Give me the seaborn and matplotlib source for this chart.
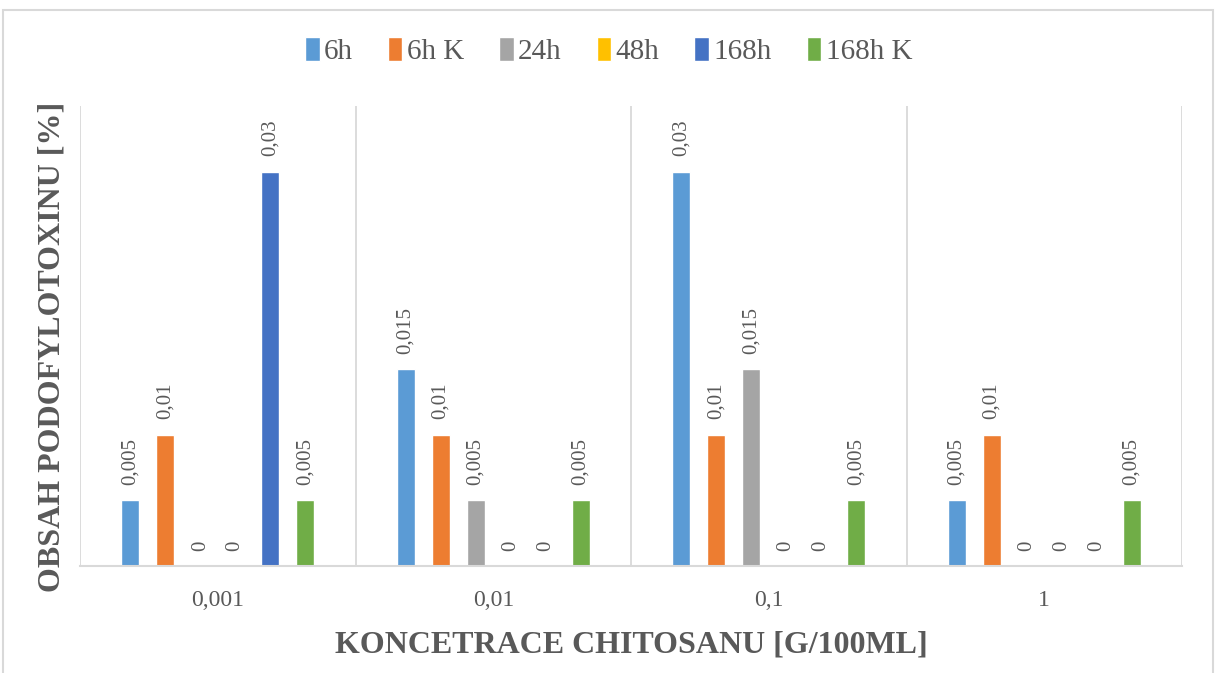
import numpy as np
import pandas as pd
import matplotlib
matplotlib.use("Agg")
import matplotlib.pyplot as plt
import seaborn as sns

# Data
concentrations = ["0,001", "0,01", "0,1", "1"]
series = ["6h", "6h K", "24h", "48h", "168h", "168h K"]
values = {
    "6h":     [0.005, 0.015, 0.03, 0.005],
    "6h K":   [0.01, 0.01, 0.01, 0.01],
    "24h":    [0.0, 0.005, 0.015, 0.0],
    "48h":    [0.0, 0.0, 0.0, 0.0],
    "168h":   [0.03, 0.0, 0.0, 0.0],
    "168h K": [0.005, 0.005, 0.005, 0.005],
}
colors = ["#5B9BD5", "#ED7D31", "#A5A5A5", "#FFC000", "#4472C4", "#70AD47"]
text_color = "#595959"
grid_color = "#D9D9D9"

rows = []
for s in series:
    for c, v in zip(concentrations, values[s]):
        rows.append({"conc": c, "series": s, "value": v})
df = pd.DataFrame(rows)

sns.set_theme(style="white")
plt.rcParams["font.family"] = ["Liberation Serif", "DejaVu Serif"]

fig = plt.figure(figsize=(12.17, 6.73), dpi=100)
ax = fig.add_axes([80 / 1217, 1 - 566 / 673, (1182 - 80) / 1217, (566 - 106) / 673])

sns.barplot(data=df, x="conc", y="value", hue="series", hue_order=series,
            order=concentrations, palette=colors, width=0.762, gap=0.49,
            errorbar=None, saturation=1, ax=ax)

# data labels
for cont in ax.containers:
    labels = [f"{b.get_height():g}".replace(".", ",") for b in cont]
    ax.bar_label(cont, labels=labels, rotation=90, padding=11,
                 fontsize=15, color=text_color)

ax.set_ylim(0, 0.035)
ax.set_xlim(-0.5, len(concentrations) - 0.5)
ax.set_yticks([])
ax.set_xticks(np.arange(-0.5, len(concentrations)), minor=True)
ax.grid(axis="x", which="minor", color=grid_color, linewidth=1.3)
ax.tick_params(axis="x", which="both", length=0, pad=17, labelsize=17,
               labelcolor=text_color)
for side in ["top", "left", "right"]:
    ax.spines[side].set_visible(False)
ax.spines["bottom"].set_color(grid_color)
ax.spines["bottom"].set_linewidth(1.5)

ax.set_xlabel("KONCETRACE CHITOSANU [G/100ML]", fontsize=23, fontweight="bold",
              color=text_color, labelpad=14)
ax.set_ylabel("OBSAH PODOFYLOTOXINU [%]", fontsize=23, fontweight="bold",
              color=text_color)
ax.yaxis.set_label_coords(-0.012, 0.476)

handles, labs = ax.get_legend_handles_labels()
ax.legend(handles, labs, loc="center", bbox_to_anchor=(0.5, (673 - 51) / 673),
          bbox_transform=fig.transFigure, ncol=6, frameon=False, fontsize=21,
          labelcolor=text_color, handlelength=0.5, handleheight=0.9,
          handletextpad=0.15, columnspacing=1.2)

# chart area border
fig.patches.append(plt.Rectangle((3 / 1217, -0.01), 1210 / 1217, 663 / 673 + 0.01,
                                 transform=fig.transFigure, fill=False,
                                 edgecolor=grid_color, linewidth=1.5))

fig.savefig("out.png", dpi=100)
